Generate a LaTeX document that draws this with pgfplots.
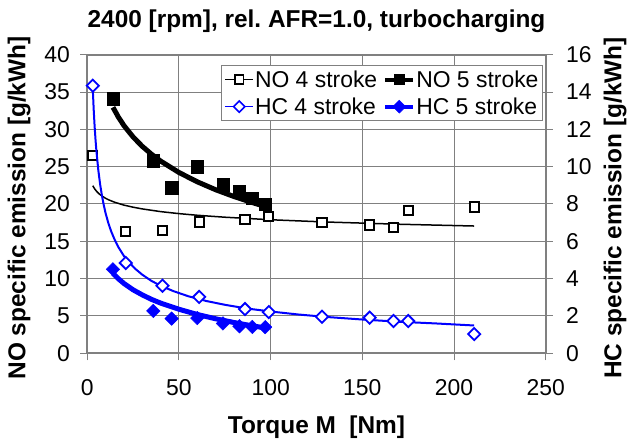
\documentclass[border=0pt]{standalone}
\usepackage{fontspec}
\setmainfont{Liberation Sans}
\usepackage{pgfplots}
\pgfplotsset{compat=1.18}
\definecolor{gridc}{RGB}{128,128,128}
\definecolor{hcblue}{RGB}{0,0,255}
\frenchspacing
\begin{document}
\begin{tikzpicture}
\pgfplotsset{
  base/.style={
    scale only axis, width=458.4bp, height=298.6bp,
    at={(0,0)}, anchor=origin,
    xmin=0, xmax=250,
    clip=false,
    /pgf/number format/assume math mode=true,
    tick label style={font=\fontsize{23}{23}\selectfont},
    tick align=outside, major tick length=7bp,
    every tick/.style={gridc, line width=1bp},
  }
}
\begin{axis}[base,
  ymin=0, ymax=40,
  xtick={0,50,...,250}, ytick={0,5,...,40},
  xtick pos=left, ytick pos=left,
  xticklabel style={yshift=-16bp},
  yticklabel style={xshift=-7bp},
  grid=major, grid style={gridc, line width=1bp},
  axis line style={gridc, line width=2bp},
]
% NO 4 stroke trend (thin)
\addplot[black, line width=1.5bp, no marks] coordinates {
(3,22.45)(4,22.03)(5,21.72)(6.5,21.35)(8,21.07)(10,20.76)(12,20.52)(15,20.23)(20,19.85)(25,19.57)(30,19.34)(40,18.98)(50,18.71)(60,18.49)(75,18.23)(100,17.89)(130,17.59)(170,17.29)(211,17.05)};
% NO 5 stroke trend (thick)
\addplot[black, line width=5bp, no marks] coordinates {
(14,32.95)(17,31.62)(20,30.50)(25,28.97)(30,27.72)(35,26.67)(40,25.75)(50,24.22)(60,22.97)(70,21.91)(80,21.00)(90,20.19)(97,19.67)};
% NO 4 stroke points
\addplot[only marks, mark=square*, mark size=4.6bp, mark options={draw=black, fill=white, line width=2bp}] coordinates {
(3,26.5)(21,16.3)(41,16.5)(61,17.6)(86,17.9)(99,18.3)(128,17.5)(154,17.2)(167,16.9)(175,19.1)(211,19.6)};
% NO 5 stroke points
\addplot[only marks, mark=square*, mark size=6.2bp, mark options={draw=black, fill=black}] coordinates {
(14,34.1)(36,25.8)(46,22.2)(60,25.0)(74,22.6)(83,21.7)(90,20.8)(97,20.0)};
\end{axis}
\begin{axis}[base,
  ymin=0, ymax=16, ytick={0,2,...,16},
  axis y line*=right, axis x line=none,
  yticklabel style={xshift=10bp},
  axis line style={gridc, line width=2bp},
  legend columns=2,
  legend cell align=left,
  legend style={at={(rel axis cs:0.2917,0.9655)}, anchor=north west,
    draw=gridc, line width=1bp, fill=white,
    font=\fontsize{23}{23}\selectfont,
    nodes={inner xsep=1bp, inner ysep=3bp},
    /tikz/every even column/.append style={column sep=5bp},
    row sep=3bp},
  legend image code/.code={\draw[mark repeat=2,mark phase=2] plot coordinates {(0bp,0bp)(14bp,0bp)(28bp,0bp)};},
]
\addlegendimage{black, line width=1.5bp, mark=square*, mark size=4.3bp, mark options={draw=black, fill=white, line width=1.5bp}}
\addlegendentry{NO 4 stroke}
\addlegendimage{black, line width=4bp, mark=square*, mark size=5bp, mark options={draw=black, fill=black, line width=0.5bp}}
\addlegendentry{NO 5 stroke}
\addlegendimage{hcblue, line width=1.5bp, mark=square*, mark size=4bp, mark options={draw=hcblue, fill=white, line width=1.5bp, rotate=45}}
\addlegendentry{HC 4 stroke}
\addlegendimage{hcblue, line width=4bp, mark=square*, mark size=4.6bp, mark options={draw=hcblue, fill=hcblue, line width=0.5bp, rotate=45}}
\addlegendentry{HC 5 stroke}
% HC 4 stroke trend
\addplot[hcblue, line width=2bp, no marks, forget plot] coordinates {
(3,14.14)(3.5,13.04)(4,12.15)(4.5,11.42)(5,10.81)(6,9.82)(7,9.05)(8,8.44)(9,7.93)(10,7.50)(11.5,6.97)(13,6.54)(15,6.07)(17,5.68)(20,5.21)(22,4.96)(26,4.54)(30,4.21)(35,3.88)(40,3.62)(47,3.33)(55,3.06)(65,2.80)(75,2.60)(87,2.40)(100,2.24)(115,2.08)(130,1.95)(150,1.81)(170,1.69)(190,1.60)(211,1.49)};
% HC 5 stroke trend
\addplot[hcblue, line width=5bp, no marks, forget plot] coordinates {
(14,4.28)(17,3.99)(20,3.74)(25,3.40)(30,3.13)(35,2.89)(40,2.69)(50,2.36)(60,2.08)(70,1.85)(80,1.65)(90,1.47)(97,1.36)};
% HC 4 stroke points
\addplot[only marks, forget plot, mark=square*, mark size=4.3bp, mark options={draw=hcblue, fill=white, line width=1.8bp, rotate=45}] coordinates {
(3,14.34)(21,4.84)(41,3.62)(61,3.02)(86,2.37)(99,2.21)(128,1.96)(154,1.91)(167,1.73)(175,1.73)(211,1.03)};
% HC 5 stroke points
\addplot[only marks, forget plot, mark=square*, mark size=4.8bp, mark options={draw=hcblue, fill=hcblue, rotate=45}] coordinates {
(14,4.5)(36,2.27)(46,1.86)(60,1.89)(74,1.6)(83,1.45)(90,1.41)(97,1.4)};
\end{axis}
\node[font=\bfseries\fontsize{24.5}{24.5}\selectfont] at (229.2bp,332.3bp) {2400 [rpm], rel. AFR=1.0, turbocharging};
\node[font=\bfseries\fontsize{24.5}{24.5}\selectfont] at (229.2bp,-73.7bp) {Torque M\ \ [Nm]};
\node[font=\bfseries\fontsize{24.5}{24.5}\selectfont, rotate=90] at (-68.3bp,145.3bp) {NO specific emission [g/kWh]};
\node[font=\bfseries\fontsize{24.5}{24.5}\selectfont, rotate=90] at (527.7bp,145.3bp) {HC specific emission [g/kWh]};
\pgfresetboundingbox
\useasboundingbox (-87.3bp,-88.7bp) rectangle (539.7bp,353.3bp);
\end{tikzpicture}
\end{document}
